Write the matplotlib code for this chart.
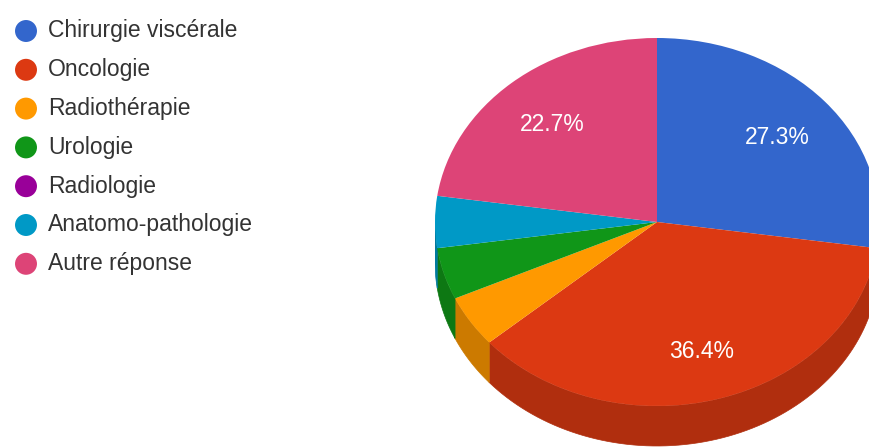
import numpy as np
import matplotlib
matplotlib.use("Agg")
import matplotlib.pyplot as plt
from matplotlib.patches import Polygon
from matplotlib.colors import to_rgb

categories = ["Chirurgie viscérale", "Oncologie", "Radiothérapie", "Urologie",
              "Radiologie", "Anatomo-pathologie", "Autre réponse"]
counts = [6, 8, 1, 1, 0, 1, 5]
colors = ["#3366cc", "#dc3912", "#ff9900", "#109618", "#990099", "#0099c6", "#dd4477"]

W, H = 869, 448
fig = plt.figure(figsize=(W / 100, H / 100), dpi=100)
fig.patch.set_facecolor("white")
plt.rcParams["font.family"] = ["Liberation Sans", "DejaVu Sans"]

# ---- pie (tilted ellipse drawn on a non-square axes) ----
cx, cy, rx, ry, depth = 657, 222, 222, 184, 40
top_px = cy - ry
ax = fig.add_axes([(cx - rx) / W, 0, 2 * rx / W, (H - top_px) / H])
ybot = -1 - (H - (cy + ry)) / ry
d = depth / ry

total = sum(counts)


def pct_label(p):
    return f"{p:.1f}%" if p >= 10 else ""


wedges, _, autotexts = ax.pie(
    counts, colors=colors, startangle=90, counterclock=False,
    autopct=pct_label, pctdistance=0.72,
    wedgeprops=dict(linewidth=0, zorder=3),
    textprops=dict(color="white", fontsize=16.5),
)
for t in autotexts:
    t.set_zorder(5)
    t.set_va("center_baseline")

# side wall: the visible lower half of each slice, shaded darker
fr = np.cumsum([0] + counts) / total
for i, c in enumerate(colors):
    if counts[i] == 0:
        continue
    # math angles (deg) covered by this slice
    a_hi = 90 - fr[i] * 360
    a_lo = 90 - fr[i + 1] * 360
    for shift in (0, 360, -360):
        lo, hi = a_lo + shift, a_hi + shift
        s, e = max(lo, 180), min(hi, 360)
        if e <= s:
            continue
        t = np.radians(np.linspace(s, e, 80))
        top = np.column_stack([np.cos(t), np.sin(t)])
        bot = np.column_stack([np.cos(t[::-1]), np.sin(t[::-1]) - d])
        dark = tuple(v * 0.8 for v in to_rgb(c))
        ax.add_patch(Polygon(np.vstack([top, bot]), closed=True,
                             facecolor=dark, edgecolor=dark, linewidth=0.5, zorder=1))

ax.set_aspect("auto")
ax.set_xlim(-1, 1)
ax.set_ylim(ybot, 1)
ax.axis("off")

# ---- legend ----
lax = fig.add_axes([0, 0, 1, 1])
lax.set_xlim(0, W)
lax.set_ylim(H, 0)
lax.axis("off")
y0, step = 31, 38.8
for i, (name, c) in enumerate(zip(categories, colors)):
    y = y0 + i * step
    lax.scatter([26], [y], s=250, color=c, edgecolors="none")
    lax.text(48, y, name, fontsize=16.5, color="#333333", va="center", ha="left")

fig.savefig("out.png", dpi=100, facecolor="white")
